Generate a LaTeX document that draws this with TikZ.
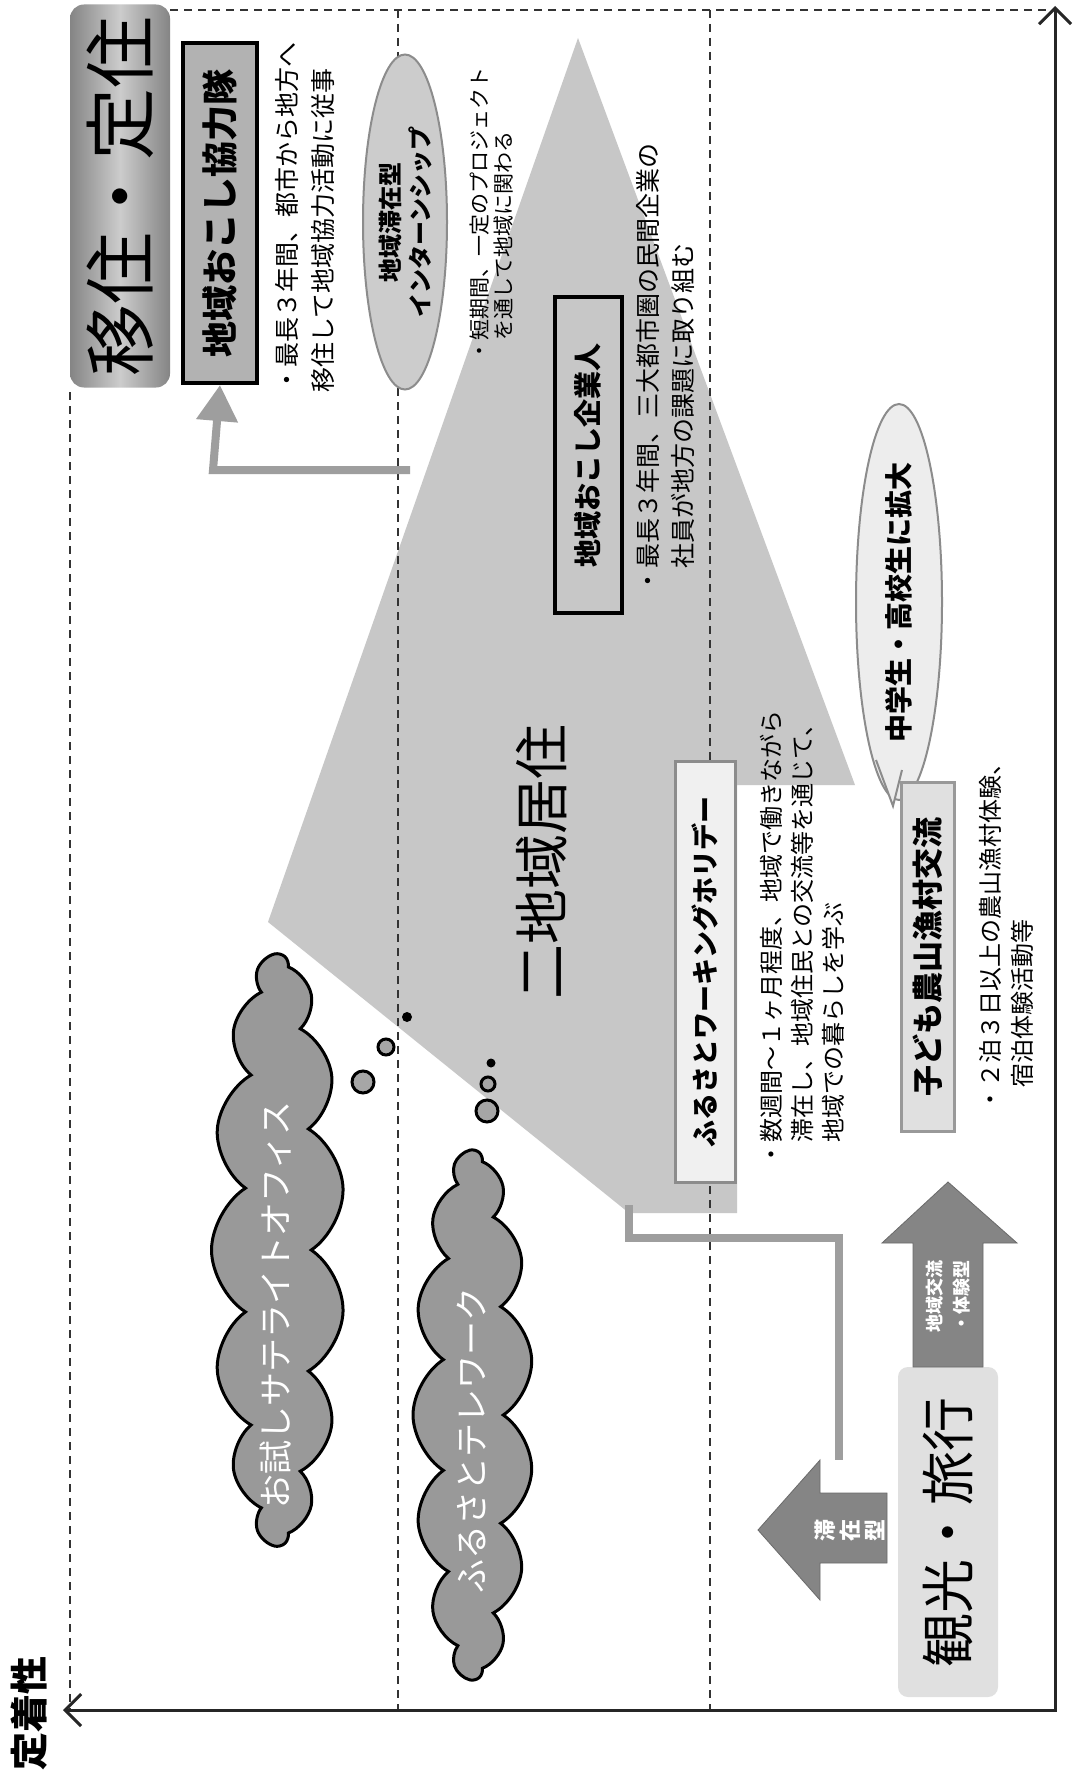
\documentclass[tikz,border=0pt]{standalone}
\usepackage{fontspec}
\setmainfont{Noto Sans CJK JP}
\usetikzlibrary{shapes.geometric,shapes.symbols,arrows.meta}
\definecolor{shapegray}{gray}{0.78}
\definecolor{boxgray}{gray}{0.70}
\definecolor{arrgray}{gray}{0.52}
\definecolor{linegray}{gray}{0.62}
\begin{document}
\begin{tikzpicture}[x=1pt,y=-1pt,
  vt/.style={rotate=90,inner sep=0pt,align=left},
  dashline/.style={line width=1.6pt,dash pattern=on 8pt off 6pt,black!80},
  axisline/.style={line width=3pt,black!85},
  tbox/.style={rotate=90,draw=black,line width=4pt,fill=boxgray,inner sep=0pt,font=\bfseries\fontsize{28}{30}\selectfont},
  callout/.style={rotate=90,ellipse,draw=black!45,line width=2pt,inner sep=0pt,font=\bfseries\fontsize{26}{31}\selectfont,align=center},
  puff/.style={cloud,cloud puffs=15,cloud puff arc=115,cloud ignores aspect,draw=black,line width=3pt,fill=black!40,rotate=90,inner sep=0pt},
  cloudtxt/.style={rotate=90,inner sep=0pt,text=white,font=\fontsize{34}{36}\selectfont},
  bubble/.style={draw=black,line width=3pt,fill=black!35},
  connector/.style={line width=8pt,linegray},
  fatarrow/.style={fill=arrgray,draw=arrgray!80!black,line width=0.8pt}
]
\useasboundingbox (0,0) rectangle (1074,1779);
\fill[white] (0,0) rectangle (1074,1779);

% big shape (二地域居住)
\fill[shapegray] (578,38) -- (855,785) -- (737,785) -- (737,1213) -- (629,1213) -- (268,922) -- cycle;

% dashed grid
\draw[dashline] (170,10) -- (1050,10);
\draw[dashline] (398,10) -- (398,1710);
\draw[dashline] (710,10) -- (710,1710);
\draw[dashline] (70,392) -- (70,1710);

% axes
\coordinate (O) at (1055,1710);
\coordinate (Xend) at (63,1710);
\coordinate (Yend) at (1055,6);
\draw[axisline,{Straight Barb[length=16pt,width=32pt,line width=3pt]}-{Straight Barb[length=16pt,width=32pt,line width=3pt]}] (Xend) -- (O) -- (Yend);
\node[vt,font=\bfseries\fontsize{38}{40}\selectfont] (axlabel) at (29,1713) {定着性};

% 移住・定住
\node[rotate=90,rounded corners=14pt,minimum width=383pt,minimum height=100pt,inner sep=0pt,
  left color=black!48,right color=black!48,middle color=black!20,font=\fontsize{72}{74}\selectfont] (teiju) at (120,196) {移住・定住};

% 地域おこし協力隊
\node[tbox,minimum width=340pt,minimum height=74pt,font=\bfseries\fontsize{36}{38}\selectfont] (kyoryoku) at (220,213) {地域おこし協力隊};
\node[vt,anchor=west,font=\fontsize{25}{36}\selectfont] (kyoryokutxt) at (305,393) {・最長３年間、都市から地方へ\\移住して地域協力活動に従事};

% インターンシップ
\node[callout,fill=black!20,minimum width=335pt,minimum height=84pt,font=\bfseries\fontsize{24}{30}\selectfont] (intern) at (405,222) {地域滞在型\\インターンシップ};
\node[vt,anchor=west,font=\fontsize{21}{24}\selectfont] (interntxt) at (492,362) {・短期間、一定のプロジェクト\\\hspace*{1em}を通して地域に関わる};

% 地域おこし企業人
\node[tbox,fill=black!22,minimum width=316pt,minimum height=67pt] (kigyo) at (588,455) {地域おこし企業人};
\node[vt,anchor=west,font=\fontsize{25}{35}\selectfont] (kigyotxt) at (665,594) {・最長３年間、三大都市圏の民間企業の\\\hspace*{1em}社員が地方の課題に取り組む};

% 二地域居住
\node[vt,font=\fontsize{55}{58}\selectfont] (niti) at (542,862) {二地域居住};

% ふるさとワーキングホリデー
\node[rotate=90,draw=black!45,line width=3pt,fill=black!6,minimum width=421pt,minimum height=60pt,inner sep=0pt,font=\bfseries\fontsize{27}{30}\selectfont] (holiday) at (705,972) {ふるさとワーキングホリデー};
\node[vt,anchor=west,font=\fontsize{24}{31}\selectfont] (holidaytxt) at (802,1167) {・数週間～１ヶ月程度、地域で働きながら\\\hspace*{1em}滞在し、地域住民との交流等を通じて、\\\hspace*{1em}地域での暮らしを学ぶ};

% 中学生・高校生に拡大 (callout)
\node[callout,fill=black!7,minimum width=378pt,minimum height=86pt,font=\bfseries\fontsize{28}{30}\selectfont] (chugaku) at (899,602) {中学生・高校生に拡大};
\fill[black!7] (876,760) -- (893,806) -- (902,768) -- cycle;
\draw[black!45,line width=2pt] (876,760) -- (893,806) -- (902,770);

% 子ども農山漁村交流
\node[rotate=90,draw=black!40,line width=3pt,fill=black!12,minimum width=349pt,minimum height=53pt,inner sep=0pt,font=\bfseries\fontsize{31}{33}\selectfont] (kodomo) at (928,957) {子ども農山漁村交流};
\node[vt,anchor=west,font=\fontsize{24}{32}\selectfont] (kodomotxt) at (1006,1112) {・２泊３日以上の農山漁村体験、\\\hspace*{1em}宿泊体験活動等};

% 観光・旅行
\node[rotate=90,rounded corners=10pt,fill=black!12,minimum width=330pt,minimum height=100pt,inner sep=0pt,font=\fontsize{54}{56}\selectfont] (kanko) at (948,1532) {観光・旅行};

% up arrow 地域交流・体験型
\draw[fatarrow] (913,1367) -- (913,1243) -- (882,1243) -- (948,1182) -- (1017,1243) -- (983,1243) -- (983,1367) -- cycle;
\node[vt,align=left,text=white,font=\bfseries\fontsize{18}{27}\selectfont] (taiken) at (948,1296) {地域交流\\・体験型};

% left arrow 滞在型
\draw[fatarrow] (887,1493) -- (820,1493) -- (820,1460) -- (758,1530) -- (820,1600) -- (820,1563) -- (887,1563) -- cycle;
\node[vt,align=center,text=white,font=\bfseries\fontsize{22}{25}\selectfont] (taizai) at (850,1530) {滞\\在\\型};

% connectors
\coordinate (c1) at (410,470);
\coordinate (c2) at (213,470);
\draw[connector,-{Triangle[length=36pt,width=40pt]}] (c1) -- (c2) -- (kyoryoku.west);
\coordinate (d1) at (629,1205);
\coordinate (d2) at (629,1238);
\coordinate (d3) at (839,1238);
\coordinate (d4) at (839,1460);
\draw[connector] (d1) -- (d2) -- (d3) -- (d4);

% clouds
\node[puff,minimum width=590pt,minimum height=133pt] (cloud1) at (278,1250) {};
\node[cloudtxt] (cloud1txt) at (276,1305) {お試しサテライトオフィス};
\node[puff,minimum width=528pt,minimum height=120pt] (cloud2) at (473,1415) {};
\node[cloudtxt] (cloud2txt) at (472,1440) {ふるさとテレワーク};

% thought bubbles
\fill[black] (407,1017) circle (5);
\draw[bubble] (386,1047) circle (8);
\draw[bubble] (363,1082) circle (11);
\fill[black] (491,1063) circle (4.5);
\draw[bubble] (488,1084) circle (7);
\draw[bubble] (487,1111) circle (11);
\end{tikzpicture}
\end{document}
